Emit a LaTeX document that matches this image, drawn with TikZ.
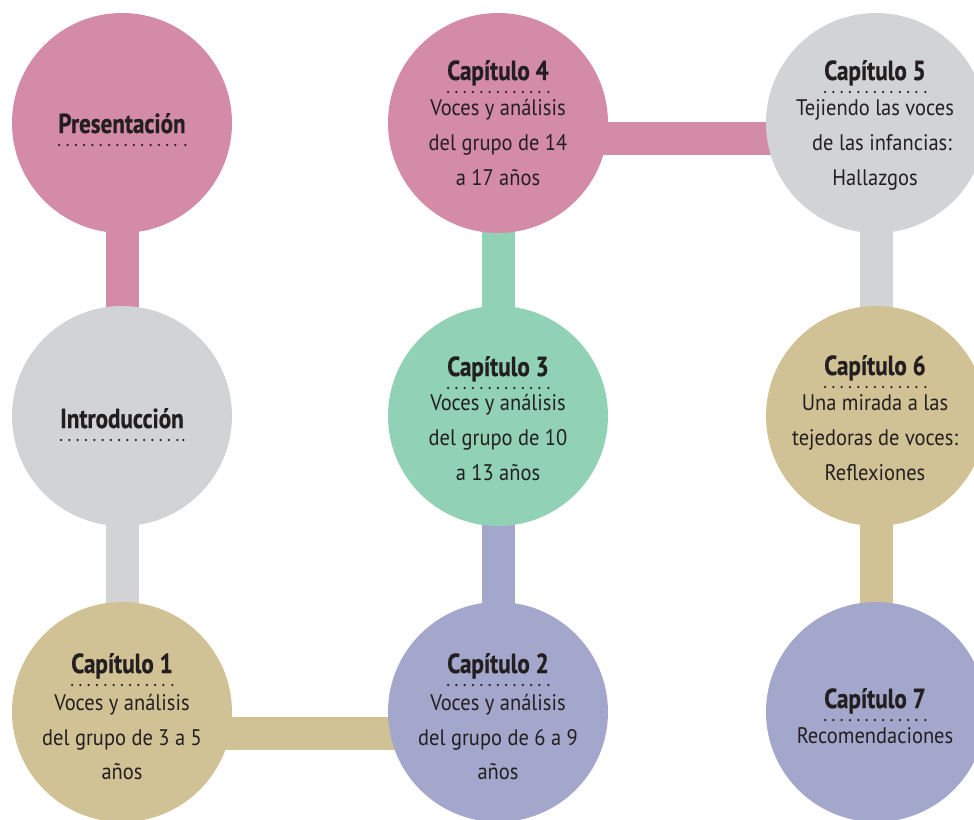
\documentclass[tikz,border=0pt]{standalone}
\usepackage{fontspec}
\setmainfont{PT Sans}
\newfontfamily\titlefont[FakeStretch=0.84,FakeBold=0.6]{PT Sans}
\newfontfamily\bodyfont[FakeStretch=0.91]{PT Sans}
\usetikzlibrary{backgrounds}
\definecolor{cpink}{HTML}{D48BA8}
\definecolor{cgray}{HTML}{D1D3D4}
\definecolor{cgreen}{HTML}{91D1B5}
\definecolor{ctan}{HTML}{D1C295}
\definecolor{clav}{HTML}{A3A7CC}
\definecolor{ink}{HTML}{231F20}
\tikzset{
  bub/.style={circle, minimum size=220pt, inner sep=0pt, draw=none},
  bar/.style={line width=33pt},
  ttl/.style={anchor=base, inner sep=0pt, text=ink, font=\titlefont\bfseries\fontsize{27.5}{30}\selectfont},
  bodytxt/.style={anchor=base, inner sep=0pt, text=ink, font=\bodyfont\fontsize{22.5}{24}\selectfont},
  dotline/.style={ink, line width=2.5pt, line cap=round, dash pattern=on 0pt off 8.3pt}
}
\newcommand\dotsunder[1]{%
  \draw[dotline] ([yshift=-12pt,xshift=1pt]#1.base west) -- ([yshift=-12pt,xshift=-4pt]#1.base east);
  \fill[ink] ([yshift=-12pt,xshift=-0.5pt]#1.base east) circle (1.25pt);}
\begin{document}
\begin{tikzpicture}[x=1pt,y=-1pt]
\useasboundingbox (0,0) rectangle (974,819);
% circles
\node[bub, fill=cpink]  (pres)  at (122,123) {};
\node[bub, fill=cgray]  (intro) at (122,416) {};
\node[bub, fill=ctan]   (c1)    at (122,712) {};
\node[bub, fill=clav]   (c2)    at (498,712) {};
\node[bub, fill=cgreen] (c3)    at (498,416) {};
\node[bub, fill=cpink]  (c4)    at (498,123) {};
\node[bub, fill=cgray]  (c5)    at (876,123) {};
\node[bub, fill=ctan]   (c6)    at (876,416) {};
\node[bub, fill=clav]   (c7)    at (876,712) {};
% connectors
\begin{pgfonlayer}{background}
\draw[bar, cpink]  (pres.center) -- (intro.center);
\draw[bar, cgray]  (intro.center) -- (c1.center);
\draw[bar, ctan]   ([yshift=-21pt]c1.center) -- ([yshift=-21pt]c2.center);
\draw[bar, clav]   (c2.center) -- (c3.center);
\draw[bar, cgreen] (c3.center) -- (c4.center);
\draw[bar, cpink]  ([yshift=-15pt]c4.center) -- ([yshift=-15pt]c5.center);
\draw[bar, cgray]  (c5.center) -- (c6.center);
\draw[bar, ctan]   (c6.center) -- (c7.center);
\end{pgfonlayer}
% texts
\node[ttl] (pres-t) at (122,133) {Presentación}; \dotsunder{pres-t}
\node[ttl] (intro-t) at (122,428) {Introducción}; \dotsunder{intro-t}

\node[ttl] (c1-t) at (122,673) {Capítulo 1}; \dotsunder{c1-t}
\node[bodytxt] (c1-a) at (122,710) {Voces y análisis};
\node[bodytxt] (c1-b) at (122,745) {del grupo de 3 a 5};
\node[bodytxt] (c1-c) at (122,779) {años};

\node[ttl] (c2-t) at (498,673) {Capítulo 2}; \dotsunder{c2-t}
\node[bodytxt] (c2-a) at (498,710) {Voces y análisis};
\node[bodytxt] (c2-b) at (498,745) {del grupo de 6 a 9};
\node[bodytxt] (c2-c) at (498,779) {años};

\node[ttl] (c3-t) at (498,376) {Capítulo 3}; \dotsunder{c3-t}
\node[bodytxt] (c3-a) at (498,410) {Voces y análisis};
\node[bodytxt] (c3-b) at (498,445) {del grupo de 10};
\node[bodytxt] (c3-c) at (498,480) {a 13 años};

\node[ttl] (c4-t) at (498,80) {Capítulo 4}; \dotsunder{c4-t}
\node[bodytxt] (c4-a) at (498,115) {Voces y análisis};
\node[bodytxt] (c4-b) at (498,150) {del grupo de 14};
\node[bodytxt] (c4-c) at (498,185) {a 17 años};

\node[ttl] (c5-t) at (875,80) {Capítulo 5}; \dotsunder{c5-t}
\node[bodytxt] (c5-a) at (875,115) {Tejiendo las voces};
\node[bodytxt] (c5-b) at (882,150) {de las infancias:};
\node[bodytxt] (c5-c) at (875,185) {Hallazgos};

\node[ttl] (c6-t) at (875,375) {Capítulo 6}; \dotsunder{c6-t}
\node[bodytxt] (c6-a) at (875,410) {Una mirada a las};
\node[bodytxt] (c6-b) at (875,445) {tejedoras de voces:};
\node[bodytxt] (c6-c) at (875,480) {Reflexiones};

\node[ttl] (c7-t) at (875,708) {Capítulo 7}; \dotsunder{c7-t}
\node[bodytxt] (c7-a) at (875,743) {Recomendaciones};
\end{tikzpicture}
\end{document}
